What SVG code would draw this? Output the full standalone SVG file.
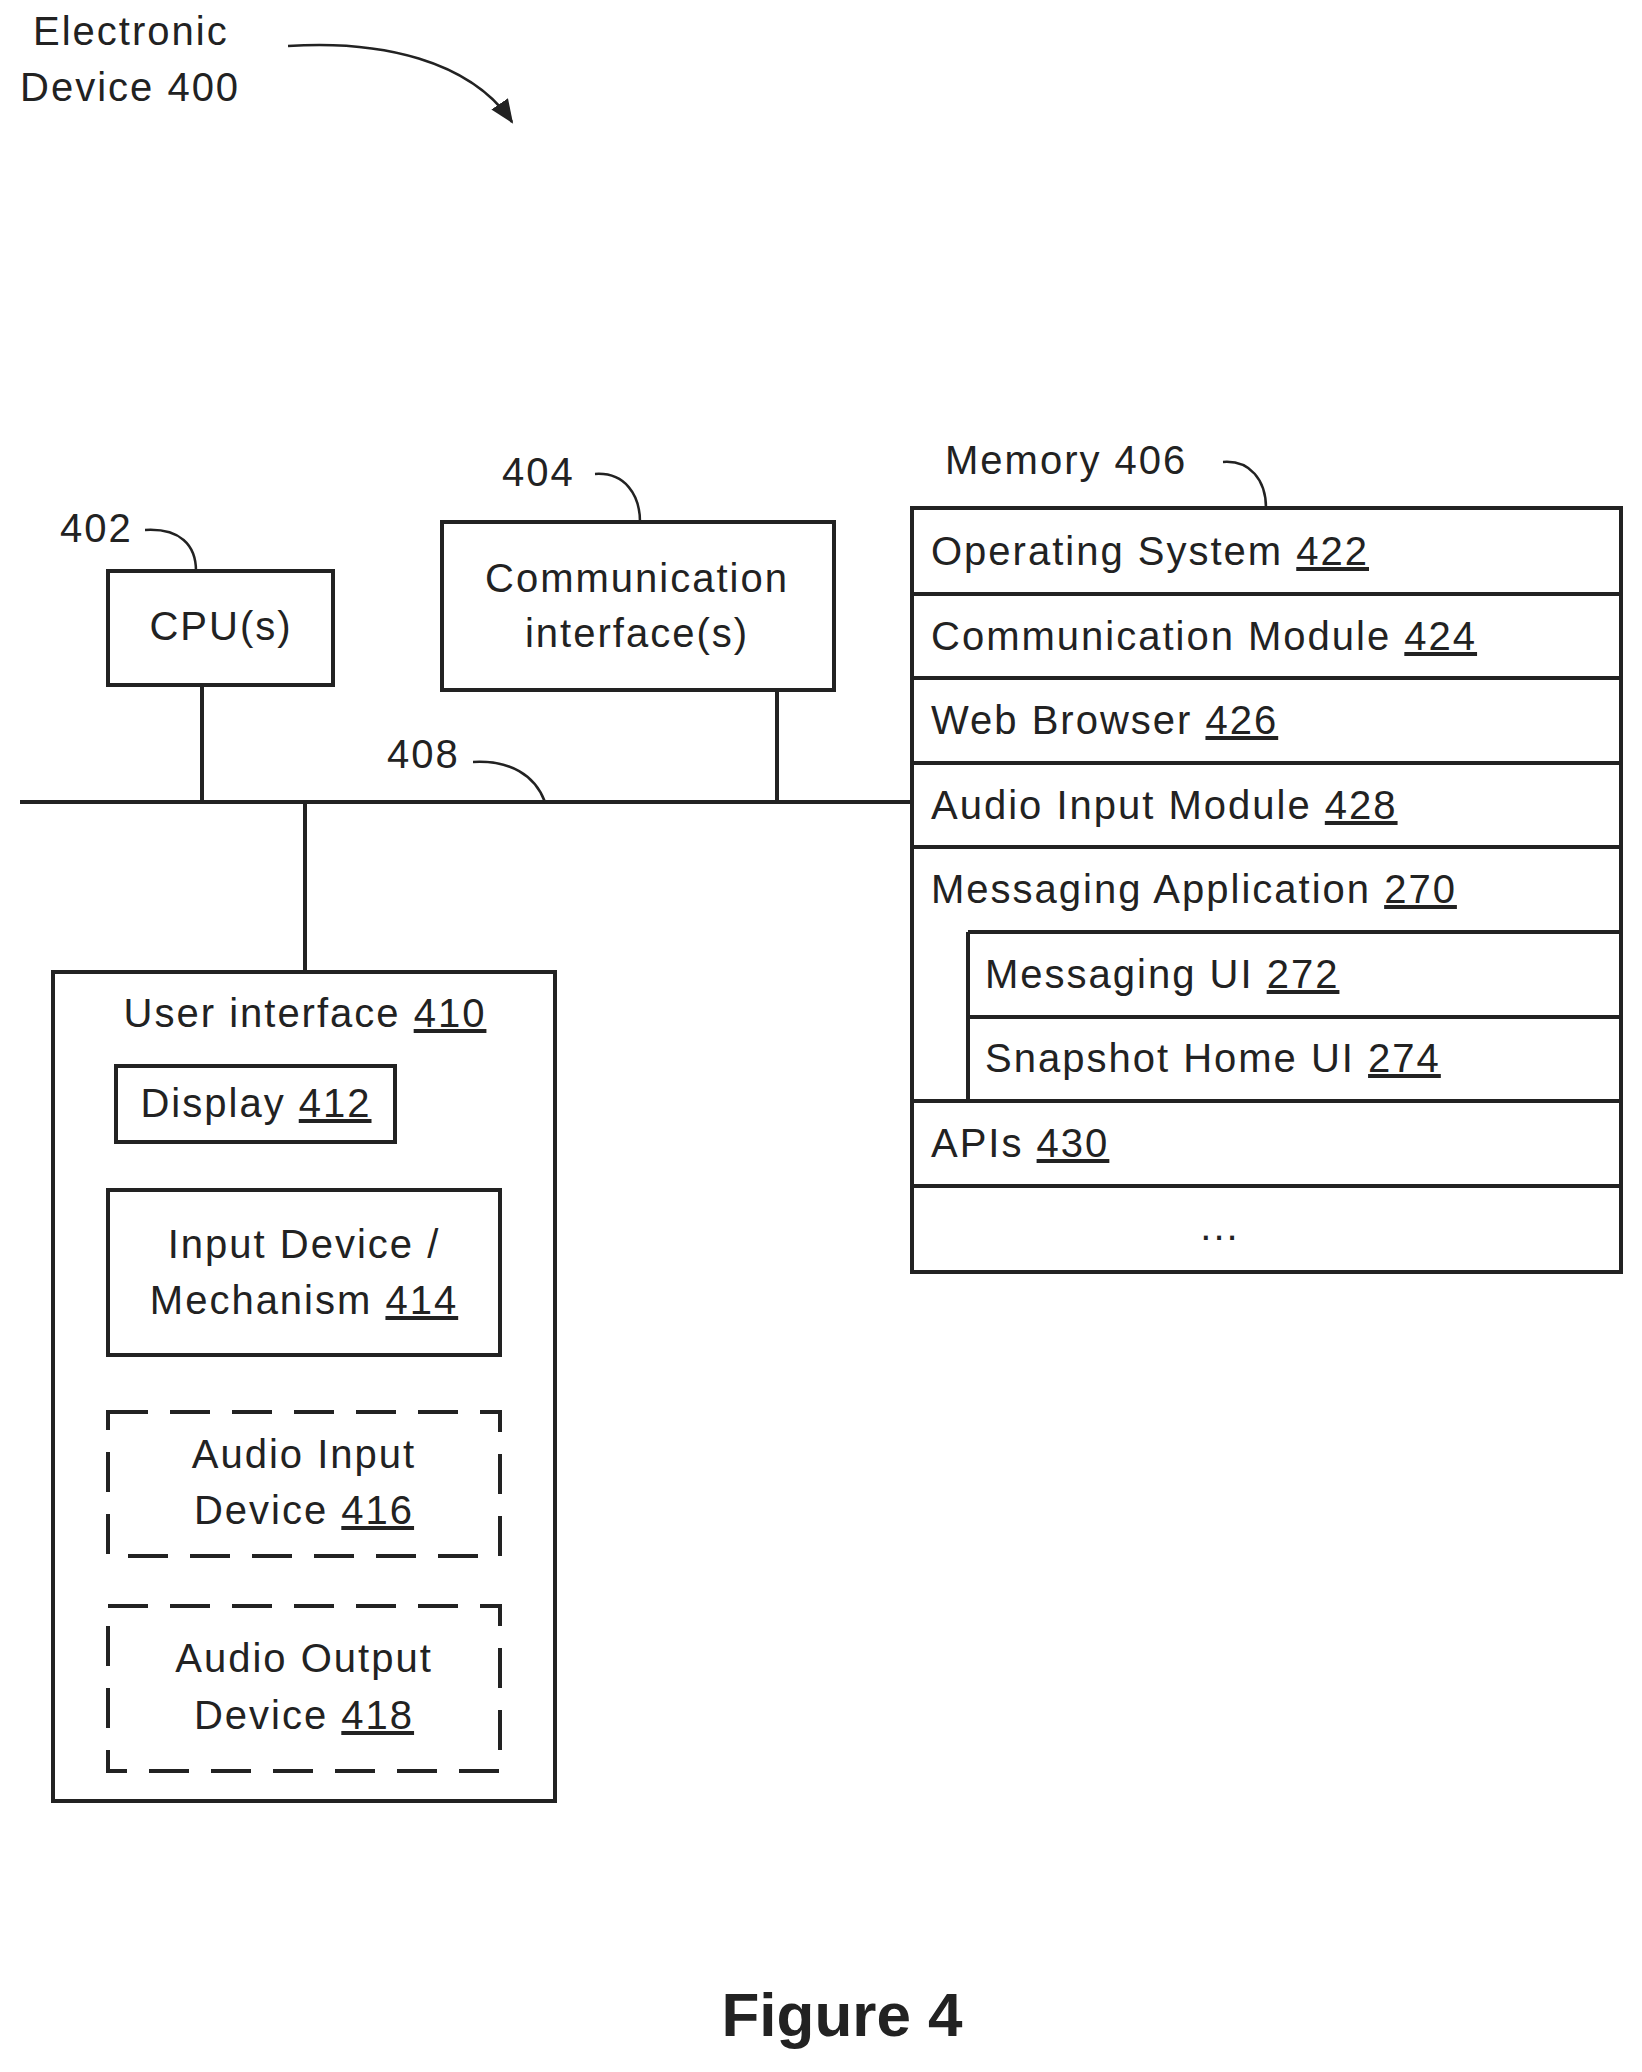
<svg xmlns="http://www.w3.org/2000/svg" width="1642" height="2072" viewBox="0 0 1642 2072">
<style>
text{font-family:"Liberation Sans",Arial,sans-serif;font-size:40px;fill:#222;letter-spacing:2px}
.box{fill:#fff;stroke:#222;stroke-width:4}
.dash{fill:none;stroke:#222;stroke-width:4;stroke-dasharray:40,22}
.ln{fill:none;stroke:#222;stroke-width:4}
.lead{fill:none;stroke:#222;stroke-width:2.5}
.m{text-anchor:middle}
.u{text-decoration:underline}
</style>
<defs><marker id="ah" markerWidth="10" markerHeight="10" refX="8" refY="5" orient="auto" markerUnits="userSpaceOnUse" viewBox="0 0 10 10"><path d="M0,0 L10,5 L0,10 z" fill="#222"/></marker>
<marker id="ah2" markerWidth="26" markerHeight="26" refX="22" refY="13" orient="auto" markerUnits="userSpaceOnUse"><path d="M0,3 L24,13 L0,23 z" fill="#222"/></marker></defs>
<g id="title"><text x="33" y="45">Electronic</text><text x="20" y="101">Device 400</text>
<path class="lead" d="M288,46 C380,40 470,60 512,122" marker-end="url(#ah2)"/></g>
<g id="connectors">
<line class="ln" x1="20" y1="802" x2="912" y2="802"/>
<line class="ln" x1="202" y1="685" x2="202" y2="802"/>
<line class="ln" x1="777" y1="690" x2="777" y2="802"/>
<line class="ln" x1="305" y1="802" x2="305" y2="972"/>
</g>
<g id="cpu"><rect class="box" x="108" y="571" width="225" height="114"/><text class="m" x="221" y="640">CPU(s)</text>
<text x="60" y="542">402</text><path class="lead" d="M145,530 C180,528 196,545 196,571"/></g>
<g id="comm"><rect class="box" x="442" y="522" width="392" height="168"/><text class="m" x="637" y="592">Communication</text><text class="m" x="637" y="647">interface(s)</text>
<text x="502" y="486">404</text><path class="lead" d="M595,474 C625,472 640,495 640,522"/></g>
<g id="bus"><text x="387" y="768">408</text><path class="lead" d="M473,762 C510,760 535,775 545,802"/></g>
<g id="memory">
<text x="945" y="474">Memory 406</text><path class="lead" d="M1223,462 C1250,460 1266,480 1266,508"/>
<rect class="box" x="912" y="508" width="709" height="764"/>
<line class="ln" x1="912" y1="594" x2="1621" y2="594"/>
<line class="ln" x1="912" y1="678" x2="1621" y2="678"/>
<line class="ln" x1="912" y1="763" x2="1621" y2="763"/>
<line class="ln" x1="912" y1="847" x2="1621" y2="847"/>
<line class="ln" x1="968" y1="932" x2="1621" y2="932"/>
<line class="ln" x1="968" y1="1017" x2="1621" y2="1017"/>
<line class="ln" x1="968" y1="932" x2="968" y2="1101"/>
<line class="ln" x1="912" y1="1101" x2="1621" y2="1101"/>
<line class="ln" x1="912" y1="1186" x2="1621" y2="1186"/>
<text x="931" y="565">Operating System <tspan class="u">422</tspan></text>
<text x="931" y="650">Communication Module <tspan class="u">424</tspan></text>
<text x="931" y="734">Web Browser <tspan class="u">426</tspan></text>
<text x="931" y="819">Audio Input Module <tspan class="u">428</tspan></text>
<text x="931" y="903">Messaging Application <tspan class="u">270</tspan></text>
<text x="985" y="988">Messaging UI <tspan class="u">272</tspan></text>
<text x="985" y="1072">Snapshot Home UI <tspan class="u">274</tspan></text>
<text x="931" y="1157">APIs <tspan class="u">430</tspan></text>
<text class="m" x="1220" y="1240">...</text>
</g>
<g id="ui"><rect class="box" x="53" y="972" width="502" height="829"/>
<text class="m" x="305" y="1027">User interface <tspan class="u">410</tspan></text></g>
<g id="display"><rect class="box" x="116" y="1066" width="279" height="76"/><text class="m" x="256" y="1117">Display <tspan class="u">412</tspan></text></g>
<g id="input"><rect class="box" x="108" y="1190" width="392" height="165"/><text class="m" x="304" y="1258">Input Device /</text><text class="m" x="304" y="1314">Mechanism <tspan class="u">414</tspan></text></g>
<g id="audioin"><rect class="dash" x="108" y="1412" width="392" height="144"/><text class="m" x="304" y="1468">Audio Input</text><text class="m" x="304" y="1524">Device <tspan class="u">416</tspan></text></g>
<g id="audioout"><rect class="dash" x="108" y="1606" width="392" height="165"/><text class="m" x="304" y="1672">Audio Output</text><text class="m" x="304" y="1729">Device <tspan class="u">418</tspan></text></g>
<text class="m" x="842" y="2036" style="font-size:62px;font-weight:bold;letter-spacing:0">Figure 4</text>
</svg>
